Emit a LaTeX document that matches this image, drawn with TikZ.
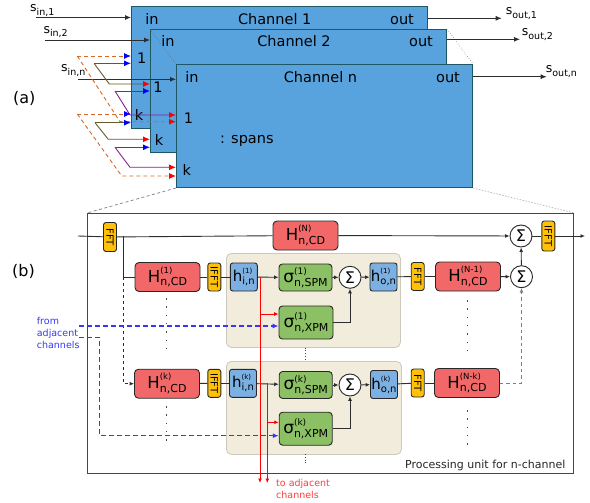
\documentclass[tikz,border=0pt]{standalone}
\usepackage{fontspec}
\setmainfont{DejaVu Sans}
\usetikzlibrary{arrows.meta,calc}

\definecolor{chfill}{RGB}{88,163,222}
\definecolor{chborder}{RGB}{30,88,100}
\definecolor{cdred}{RGB}{242,104,104}
\definecolor{nlgreen}{RGB}{140,192,100}
\definecolor{fltblue}{RGB}{124,176,226}
\definecolor{fftyel}{RGB}{255,193,7}
\definecolor{panelfill}{RGB}{242,236,220}
\definecolor{panelline}{RGB}{205,200,188}
\definecolor{boxline}{RGB}{40,40,40}
\definecolor{wirecol}{RGB}{45,45,45}
\definecolor{orgline}{RGB}{214,106,40}
\definecolor{olvline}{RGB}{105,88,40}
\definecolor{prpline}{RGB}{135,30,145}
\definecolor{adjblue}{RGB}{55,55,245}
\definecolor{tored}{RGB}{255,60,60}
\definecolor{pugray}{RGB}{70,70,70}

\newcommand\fsz[1]{\fontsize{#1}{#1}\selectfont}
% signal names s_{...}
\newcommand\siglab[1]{{\fsz{12.5}s}\raisebox{-3.5pt}{\fsz{9.5}#1}}
% dispersion operator H^{(.)}_{n,CD}
\newcommand\Hlab[1]{{\fsz{16.5}H}\makebox[0pt][l]{\raisebox{9pt}{\fsz{8.5}(#1)}}\raisebox{-3.8pt}{\fsz{11}n,CD}}
% nonlinear operator sigma^{(.)}_{n,.}
\newcommand\slab[2]{{\fsz{17}σ}\makebox[0pt][l]{\raisebox{7.5pt}{\fsz{9}(#1)}}\raisebox{-4pt}{\fsz{11}n,#2}}
% filters h^{(.)}_{.,n}
\newcommand\hlab[2]{{\fsz{15}h}\makebox[0pt][l]{\raisebox{8pt}{\fsz{7}(#1)}}\raisebox{-3pt}{\fsz{10}#2,n}}

\begin{document}
\begin{tikzpicture}[x=1pt,y=-1pt,
  every node/.style={inner sep=0pt},
  arr/.style={-{Latex[length=4.5pt,width=4pt]}},
  arrbig/.style={-{Latex[length=6pt,width=5pt]}},
  chbox/.style={draw=chborder, fill=chfill, line width=1pt, anchor=north west},
  chtxt/.style={font=\fsz{14.5}, anchor=base},
  redbox/.style={draw=boxline, fill=cdred, rounded corners=4pt, line width=0.9pt,
                 minimum width=65pt, minimum height=29pt},
  grnbox/.style={draw=boxline, fill=nlgreen, rounded corners=3.5pt, line width=0.9pt,
                 minimum width=53pt},
  blubox/.style={draw=boxline, fill=fltblue, rounded corners=2.5pt, line width=0.9pt,
                 minimum width=27pt, minimum height=28pt},
  fftbox/.style={draw=boxline, fill=fftyel, rounded corners=2.5pt, line width=0.9pt,
                 rotate=-90, minimum width=29pt, minimum height=13pt, font=\fsz{10}},
  sumnode/.style={circle, draw=boxline, fill=white, line width=0.9pt,
                  minimum size=22pt, font=\fsz{16}},
  panel/.style={draw=panelline, fill=panelfill, rounded corners=5pt, line width=0.8pt,
                anchor=north west},
  wire/.style={draw=wirecol, line width=0.9pt},
  orgdash/.style={draw=orgline, line width=0.9pt, dash pattern=on 4pt off 3pt},
  olv/.style={draw=olvline, line width=0.9pt},
  prp/.style={draw=prpline, line width=0.9pt},
  toblue/.style={-{Latex[length=7pt,width=6pt,color=blue]}},
  tored/.style={-{Latex[length=7pt,width=6pt,color=red]}},
  vdots/.style={draw=pugray, line width=1.5pt, dash pattern=on 1.5pt off 6.8pt},
  sdots/.style={draw=pugray, line width=0.7pt, dash pattern=on 0.8pt off 2pt},
  redw/.style={draw=red, line width=0.9pt},
  bluedash/.style={draw=adjblue, line width=1.1pt, dash pattern=on 5pt off 3pt,
                   -{Latex[length=6pt,width=5pt]}},
]
\useasboundingbox (0,0) rectangle (590,503);

%% ---------------- (a) stacked channels ----------------
\node[font=\fsz{16}, anchor=base west] (la) at (13,104) {(a)};

\node[chbox, minimum width=296pt, minimum height=122pt] (ch1) at (131,6) {};
\node[chtxt] (in1)  at (152,24.5) {in};
\node[chtxt] (tt1)  at (274.7,24.5) {Channel 1};
\node[chtxt] (out1) at (402,24.5) {out};
\node[chtxt] (one1) at (141.7,64) {1};
\node[chtxt] (k1)   at (139,120.5) {k};

\node[chbox, minimum width=296pt, minimum height=123pt] (ch2) at (150,29) {};
\node[chtxt] (in2)  at (168,46.5) {in};
\node[chtxt] (tt2)  at (294,46.5) {Channel 2};
\node[chtxt] (out2) at (421,46.5) {out};
\node[chtxt] (one2) at (158,93) {1};
\node[chtxt] (k2)   at (159,145.5) {k};

\node[chbox, minimum width=296pt, minimum height=123pt] (chn) at (176,64) {};
\node[chtxt] (inn)  at (192,82.5) {in};
\node[chtxt] (ttn)  at (320.5,82.5) {Channel n};
\node[chtxt] (outn) at (448,82.5) {out};
\node[chtxt] (onen) at (188.5,123.5) {1};
\node[chtxt] (kn)   at (186.7,175.5) {k};
\node[chtxt, anchor=base west] (spans) at (220,143) {: spans};

% perspective guides between the stacked channels
\draw[gray!80!black, line width=0.6pt, dotted] (ch2.north west) -- (chn.north west);
\draw[gray, line width=0.6pt, dotted] (ch2.north east) -- (chn.north east);

% signal inputs and outputs
\node[anchor=base west] (sin1) at (30,11.7) {\siglab{in,1}};
\node[anchor=base west] (sin2) at (43.3,33.3) {\siglab{in,2}};
\node[anchor=base west] (sinn) at (61,72) {\siglab{in,n}};
\coordinate (a1) at (36,17.5);
\coordinate (a2) at (45,40);
\coordinate (an) at (78,79.3);
\draw[wire, arrbig] (a1) -- (a1 -| ch1.west);
\draw[wire, arrbig] (a2) -- (a2 -| ch2.west);
\draw[wire, arrbig] (an) -- (an -| chn.west);

\coordinate (e1) at (501.7,18.3);
\coordinate (e2) at (520,39.3);
\coordinate (en) at (546.7,76.7);
\draw[wire, arrbig] (e1 -| ch1.east) -- (e1);
\draw[wire, arrbig] (e2 -| ch2.east) -- (e2);
\draw[wire, arrbig] (en -| chn.east) -- (en);
\node[anchor=base west] (sout1) at (505.7,15) {\siglab{out,1}};
\node[anchor=base west] (sout2) at (521.7,36) {\siglab{out,2}};
\node[anchor=base west] (soutn) at (545.7,72.7) {\siglab{out,n}};

% cross-channel feeds to the "1" ports
\coordinate (oA) at (77.3,56);    \coordinate (oAc) at (120,121.7);
\coordinate (vA) at (94,63.3);    \coordinate (vAc) at (109.3,84);
\coordinate (pA) at (115,91);     \coordinate (pAc) at (130,115);
\draw[orgdash, toblue] (oA) -- (oA -| ch1.west);
\draw[orgdash, tored]  (oA) -- (oAc) -- (oAc -| chn.west);
\draw[olv, toblue] (vA) -- (vA -| ch1.west);
\draw[olv, tored]  (vA) -- (vAc) -- (vAc -| ch2.west);
\draw[prp, toblue] (pA) -- (pA -| ch2.west);
\draw[prp, tored]  (pA) -- (pAc) -- (pAc -| chn.west);

% cross-channel feeds to the "k" ports
\coordinate (oB) at (77.3,114);   \coordinate (oBc) at (121.7,176);
\coordinate (vB) at (95,122.7);   \coordinate (vBc) at (108.3,139.3);
\coordinate (pB) at (115,147.3);  \coordinate (pBc) at (130,167.3);
\draw[orgdash, toblue] (oB) -- (oB -| ch1.west);
\draw[orgdash, tored]  (oB) -- (oBc) -- (oBc -| chn.west);
\draw[olv, toblue] (vB) -- (vB -| ch1.west);
\draw[olv, tored]  (vB) -- (vBc) -- (vBc -| ch2.west);
\draw[prp, toblue] (pB) -- (pB -| ch2.west);
\draw[prp, tored]  (pB) -- (pBc) -- (pBc -| chn.west);

%% ---------------- (b) processing unit ----------------
\node[font=\fsz{16}, anchor=base west] (lb) at (12,276) {(b)};

\node[draw=pugray, line width=1.2pt, anchor=north west,
      minimum width=486pt, minimum height=260pt] (pu) at (87,213) {};
\draw[gray, line width=0.7pt, dash pattern=on 3pt off 2.5pt] (chn.south west) -- (pu.north west);
\draw[gray!60, line width=0.7pt, dash pattern=on 1.5pt off 1.5pt] (chn.south east) -- (pu.north east);
\node[anchor=base west, font=\fsz{11}, text=black!85] (putxt) at (405,468) {Processing unit for n-channel};

% nonlinear-step panels
\node[panel, minimum width=174pt, minimum height=94pt] (pn1) at (226,253) {};
\node[panel, minimum width=175pt, minimum height=93pt] (pnk) at (226,361) {};

% main (direct) path
\node[fftbox] (fft0) at (110,237) {FFT};
\node[redbox] (HN) at (305.5,235.5) {\Hlab{N}};
\node[sumnode] (sumT) at (521,236) {Σ};
\node[fftbox, minimum width=30pt] (ifftT) at (548.3,236) {IFFT};
\coordinate (min) at (78,236);
\coordinate (mout) at (585,236);
\coordinate (br) at (123.3,236);

% row 1
\node[redbox] (H1) at (167.5,277) {\Hlab{1}};
\node[fftbox, minimum width=28pt] (ifft1) at (214.3,277) {IFFT};
\node[blubox] (hi1) at (243.8,277) {\hlab{1}{i}};
\node[grnbox, minimum height=27pt] (spm1) at (305.5,277.5) {\slab{1}{SPM}};
\node[grnbox, minimum width=54pt, minimum height=33pt] (xpm1) at (306,322.5) {\slab{1}{XPM}};
\node[sumnode] (sum1) at (350,277.3) {Σ};
\node[blubox] (ho1) at (383.5,277) {\hlab{1}{o}};
\node[fftbox, minimum width=28pt] (fft1) at (417.7,276.5) {FFT};
\node[redbox] (HN1) at (468,276.5) {\Hlab{N-1}};
\node[sumnode] (sumR1) at (521.5,276.7) {Σ};

% row k
\node[redbox] (Hk) at (167,383.7) {\Hlab{k}};
\node[fftbox, minimum width=28pt] (ifftk) at (214.3,383.3) {IFFT};
\node[blubox] (hik) at (243,383.3) {\hlab{k}{i}};
\node[grnbox, minimum height=27pt] (spmk) at (305.7,385) {\slab{k}{SPM}};
\node[grnbox, minimum height=33pt] (xpmk) at (305.7,428.7) {\slab{k}{XPM}};
\node[sumnode] (sumk) at (350,385) {Σ};
\node[blubox] (hok) at (384,384.5) {\hlab{k}{o}};
\node[fftbox, minimum width=28pt] (fftk) at (417.7,383) {FFT};
\node[redbox] (HNk) at (467,383) {\Hlab{N-k}};

% main path wiring
\draw[wire] (min) -- (fft0);
\draw[wire] (fft0) -- (HN);
\draw[wire, arr] (HN) -- (sumT);
\draw[wire] (sumT) -- (ifftT);
\draw[wire, arr] (ifftT) -- (mout);
\draw[wire] (br) |- (H1);
\draw[wire, dash pattern=on 3pt off 3pt, arr] (br |- H1) |- (Hk);

% row 1 wiring
\draw[wire] (H1) -- (ifft1);
\draw[wire] (ifft1) -- (hi1);
\draw[wire, arr] (hi1) -- (spm1);
\draw[wire, arr] (spm1) -- (sum1);
\draw[wire, arr] (xpm1) -| (sum1);
\draw[wire, arr] (sum1) -- (ho1);
\draw[wire] (ho1) -- (fft1);
\draw[wire] (fft1) -- (HN1);
\draw[wire, arr] (HN1) -- (sumR1);
\draw[wire, arr] (sumR1) -- (sumT);

% row k wiring
\draw[wire] (Hk) -- (ifftk);
\draw[wire] (ifftk) -- (hik);
\draw[wire, arr] (hik) -- (spmk);
\draw[wire, arr] (spmk) -- (sumk);
\draw[wire, arr] (xpmk) -| (sumk);
\draw[wire, arr] (sumk) -- (hok);
\draw[wire] (hok) -- (fftk);
\draw[wire] (fftk) -- (HNk);
\draw[draw=gray, line width=0.9pt, dash pattern=on 3.5pt off 3pt, arr] (HNk) -| (sumR1);

% continuation dots
\draw[vdots] (166.7,298) -- (166.7,352);
\draw[vdots] (166.7,406) -- (166.7,446);
\draw[vdots] (467.7,300) -- (467.7,354);
\draw[vdots] (467.7,410) -- (467.7,450);
\draw[sdots] (305,347.5) -- (305,359);
\draw[sdots] (305,454) -- (305,463);

% signals sent to adjacent channels
\coordinate (r1) at (260,277);   \coordinate (r1e) at (260,483);
\coordinate (r1x) at (260,314);
\coordinate (rk) at (267.3,383.3); \coordinate (rke) at (267.3,483);
\coordinate (rkx) at (267.3,422.3);
\draw[redw, arr] (r1) -- (r1e);
\draw[redw, arr] (rk) -- (rke);
\draw[redw, arr] (r1x) -- (r1x -| xpm1.west);
\draw[redw, arr] (rkx) -- (rkx -| xpmk.west);
\node[anchor=base west, font=\fsz{9.5}, text=tored] (to1) at (276,486) {to adjacent};
\node[anchor=base west, font=\fsz{9.5}, text=tored] (to2) at (276,498) {channels};

% signals received from adjacent channels
\node[anchor=base west, font=\fsz{9.5}, text=adjblue] (fr1) at (36.7,324) {from};
\node[anchor=base west, font=\fsz{9.5}, text=adjblue] (fr2) at (36.7,336) {adjacent};
\node[anchor=base west, font=\fsz{9.5}, text=adjblue] (fr3) at (36.7,348) {channels};
\coordinate (b1) at (79,326);
\coordinate (b2) at (79,337.3);
\coordinate (b2c) at (99.3,435.7);
\draw[bluedash] (b1) -- (b1 -| xpm1.west);
\draw[bluedash] (b2) -| (b2c) -- (b2c -| xpmk.west);
\end{tikzpicture}
\end{document}
